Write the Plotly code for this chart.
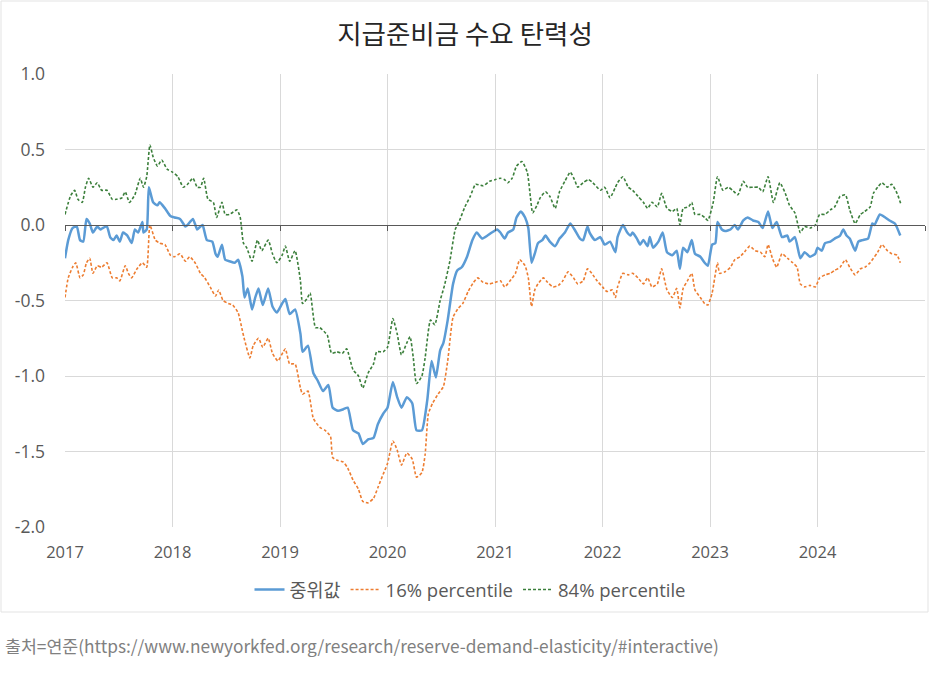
import plotly.graph_objects as go

# ---------------- data (decimal years) ----------------
t_med = [2017.00, 2017.03, 2017.07, 2017.11, 2017.14, 2017.17, 2017.20, 2017.23, 2017.26, 2017.30,
         2017.33, 2017.35, 2017.39, 2017.42, 2017.45, 2017.48, 2017.51, 2017.54, 2017.58, 2017.62,
         2017.65, 2017.68, 2017.72, 2017.73, 2017.76, 2017.78, 2017.82, 2017.86, 2017.88, 2017.93,
         2017.98, 2018.02, 2018.07, 2018.12, 2018.14, 2018.19, 2018.23, 2018.26, 2018.28, 2018.32,
         2018.37, 2018.40, 2018.42, 2018.46, 2018.49, 2018.53, 2018.58, 2018.61, 2018.65, 2018.67,
         2018.70, 2018.74, 2018.77, 2018.80, 2018.84, 2018.89, 2018.93, 2018.97, 2019.02, 2019.05,
         2019.09, 2019.14, 2019.19, 2019.21, 2019.26, 2019.31, 2019.35, 2019.40, 2019.45, 2019.49,
         2019.54, 2019.59, 2019.63, 2019.68, 2019.73, 2019.77, 2019.82, 2019.87, 2019.91, 2019.96,
         2020.00, 2020.05, 2020.09, 2020.13, 2020.18, 2020.23, 2020.27, 2020.32, 2020.37, 2020.41,
         2020.45, 2020.49, 2020.52, 2020.56, 2020.61, 2020.65, 2020.69, 2020.74, 2020.79, 2020.83,
         2020.88, 2020.93, 2020.97, 2021.02, 2021.05, 2021.09, 2021.12, 2021.17, 2021.20, 2021.24,
         2021.28, 2021.31, 2021.34, 2021.37, 2021.40, 2021.44, 2021.47, 2021.51, 2021.56, 2021.60,
         2021.65, 2021.70, 2021.74, 2021.79, 2021.82, 2021.86, 2021.88, 2021.93, 2021.98, 2022.02,
         2022.07, 2022.12, 2022.14, 2022.19, 2022.23, 2022.26, 2022.28, 2022.32, 2022.35, 2022.38,
         2022.42, 2022.44, 2022.47, 2022.52, 2022.56, 2022.60, 2022.65, 2022.69, 2022.72, 2022.75,
         2022.79, 2022.83, 2022.86, 2022.91, 2022.95, 2022.98, 2023.02, 2023.05, 2023.07, 2023.11,
         2023.14, 2023.19, 2023.23, 2023.26, 2023.31, 2023.35, 2023.40, 2023.45, 2023.49, 2023.54,
         2023.58, 2023.62, 2023.67, 2023.72, 2023.74, 2023.79, 2023.84, 2023.88, 2023.93, 2023.98,
         2024.00, 2024.04, 2024.07, 2024.12, 2024.16, 2024.21, 2024.24, 2024.27, 2024.30, 2024.35,
         2024.38, 2024.42, 2024.47, 2024.51, 2024.53, 2024.58, 2024.63, 2024.67, 2024.72, 2024.77]
median = [-0.22, -0.10, -0.02, -0.01, -0.10, -0.11, 0.04, 0.01, -0.05, -0.01,
          -0.03, -0.02, -0.01, -0.08, -0.10, -0.07, -0.11, -0.05, -0.07, -0.12,
          -0.03, -0.05, 0.02, -0.05, -0.03, 0.25, 0.15, 0.13, 0.15, 0.11,
          0.06, 0.05, 0.04, -0.01, 0.00, 0.04, -0.03, -0.01, 0.00, -0.10,
          -0.11, -0.19, -0.21, -0.13, -0.23, -0.24, -0.25, -0.23, -0.34, -0.48,
          -0.42, -0.56, -0.48, -0.42, -0.53, -0.42, -0.54, -0.58, -0.52, -0.49,
          -0.59, -0.56, -0.72, -0.84, -0.80, -0.98, -1.03, -1.10, -1.06, -1.21,
          -1.23, -1.22, -1.21, -1.36, -1.38, -1.45, -1.42, -1.41, -1.32, -1.25,
          -1.21, -1.04, -1.14, -1.21, -1.14, -1.18, -1.36, -1.36, -1.16, -0.90,
          -1.01, -0.83, -0.78, -0.63, -0.39, -0.30, -0.28, -0.21, -0.10, -0.05,
          -0.09, -0.07, -0.05, -0.03, -0.05, -0.09, -0.05, -0.03, 0.05, 0.09,
          0.05, -0.02, -0.25, -0.19, -0.12, -0.10, -0.07, -0.11, -0.14, -0.09,
          -0.05, 0.01, -0.03, -0.09, -0.10, -0.01, -0.05, -0.10, -0.08, -0.13,
          -0.11, -0.18, -0.08, 0.00, -0.05, -0.07, -0.05, -0.09, -0.13, -0.10,
          -0.14, -0.08, -0.15, -0.11, -0.05, -0.18, -0.20, -0.17, -0.29, -0.15,
          -0.18, -0.10, -0.19, -0.21, -0.25, -0.27, -0.13, -0.12, 0.02, -0.03,
          -0.04, -0.03, 0.00, -0.03, 0.03, 0.05, 0.03, 0.02, -0.02, 0.09,
          -0.02, 0.02, -0.08, -0.07, -0.11, -0.08, -0.22, -0.18, -0.21, -0.19,
          -0.15, -0.17, -0.12, -0.11, -0.09, -0.07, -0.03, -0.07, -0.09, -0.17,
          -0.11, -0.10, -0.09, 0.01, 0.00, 0.07, 0.05, 0.03, 0.01, -0.07]

t_p84 = [2017.00, 2017.05, 2017.09, 2017.12, 2017.16, 2017.19, 2017.22, 2017.26, 2017.30, 2017.34,
         2017.39, 2017.44, 2017.48, 2017.53, 2017.56, 2017.60, 2017.65, 2017.70, 2017.73, 2017.76,
         2017.79, 2017.82, 2017.86, 2017.90, 2017.95, 2018.00, 2018.05, 2018.10, 2018.14, 2018.19,
         2018.23, 2018.26, 2018.29, 2018.33, 2018.38, 2018.41, 2018.46, 2018.49, 2018.53, 2018.60,
         2018.63, 2018.66, 2018.69, 2018.74, 2018.79, 2018.83, 2018.89, 2018.93, 2018.97, 2019.02,
         2019.05, 2019.09, 2019.14, 2019.19, 2019.21, 2019.25, 2019.28, 2019.33, 2019.37, 2019.44,
         2019.48, 2019.53, 2019.58, 2019.62, 2019.68, 2019.73, 2019.77, 2019.82, 2019.87, 2019.90,
         2019.96, 2020.00, 2020.05, 2020.09, 2020.13, 2020.18, 2020.21, 2020.24, 2020.27, 2020.32,
         2020.35, 2020.40, 2020.44, 2020.49, 2020.53, 2020.58, 2020.63, 2020.67, 2020.72, 2020.77,
         2020.82, 2020.89, 2020.95, 2021.00, 2021.05, 2021.09, 2021.12, 2021.16, 2021.20, 2021.25,
         2021.30, 2021.33, 2021.35, 2021.39, 2021.42, 2021.47, 2021.51, 2021.56, 2021.60, 2021.65,
         2021.70, 2021.74, 2021.77, 2021.82, 2021.87, 2021.91, 2021.98, 2022.02, 2022.07, 2022.12,
         2022.14, 2022.19, 2022.24, 2022.28, 2022.33, 2022.38, 2022.42, 2022.46, 2022.51, 2022.55,
         2022.60, 2022.65, 2022.69, 2022.72, 2022.75, 2022.80, 2022.83, 2022.86, 2022.91, 2022.95,
         2022.98, 2023.03, 2023.07, 2023.12, 2023.17, 2023.21, 2023.26, 2023.31, 2023.35, 2023.40,
         2023.45, 2023.49, 2023.54, 2023.59, 2023.65, 2023.70, 2023.74, 2023.79, 2023.84, 2023.88,
         2023.93, 2023.98, 2024.02, 2024.07, 2024.12, 2024.16, 2024.21, 2024.26, 2024.30, 2024.35,
         2024.40, 2024.44, 2024.49, 2024.52, 2024.56, 2024.60, 2024.65, 2024.69, 2024.74, 2024.78]
p84 = [0.07, 0.19, 0.23, 0.17, 0.15, 0.25, 0.31, 0.25, 0.28, 0.23,
       0.23, 0.17, 0.17, 0.18, 0.22, 0.15, 0.20, 0.31, 0.25, 0.32,
       0.53, 0.45, 0.39, 0.43, 0.37, 0.35, 0.32, 0.25, 0.27, 0.31,
       0.25, 0.25, 0.31, 0.17, 0.15, 0.05, 0.15, 0.07, 0.07, 0.10,
       0.05, -0.12, -0.15, -0.24, -0.10, -0.17, -0.10, -0.19, -0.25, -0.20,
       -0.14, -0.24, -0.17, -0.37, -0.52, -0.49, -0.45, -0.68, -0.68, -0.73,
       -0.85, -0.84, -0.85, -0.82, -0.96, -1.00, -1.08, -0.98, -0.92, -0.84,
       -0.84, -0.81, -0.62, -0.72, -0.86, -0.78, -0.74, -0.88, -1.05, -1.00,
       -0.88, -0.63, -0.66, -0.50, -0.40, -0.24, -0.03, 0.03, 0.12, 0.19,
       0.27, 0.26, 0.29, 0.30, 0.31, 0.30, 0.28, 0.31, 0.39, 0.42,
       0.35, 0.18, 0.08, 0.13, 0.18, 0.22, 0.19, 0.11, 0.22, 0.29,
       0.35, 0.30, 0.25, 0.28, 0.30, 0.28, 0.23, 0.25, 0.18, 0.25,
       0.28, 0.32, 0.25, 0.23, 0.19, 0.15, 0.11, 0.15, 0.12, 0.21,
       0.11, 0.09, 0.11, 0.00, 0.11, 0.12, 0.15, 0.07, 0.07, 0.05,
       0.03, 0.15, 0.32, 0.23, 0.25, 0.23, 0.20, 0.29, 0.25, 0.25,
       0.25, 0.22, 0.32, 0.15, 0.28, 0.21, 0.13, 0.08, -0.05, -0.01,
       -0.02, 0.00, 0.07, 0.07, 0.10, 0.12, 0.19, 0.20, 0.10, 0.01,
       0.07, 0.09, 0.12, 0.21, 0.25, 0.28, 0.25, 0.27, 0.21, 0.13]

t_p16 = [2017.00, 2017.03, 2017.07, 2017.10, 2017.14, 2017.17, 2017.20, 2017.23, 2017.26, 2017.30,
         2017.34, 2017.39, 2017.44, 2017.48, 2017.51, 2017.56, 2017.59, 2017.62, 2017.67, 2017.72,
         2017.76, 2017.79, 2017.84, 2017.88, 2017.93, 2017.98, 2018.02, 2018.07, 2018.12, 2018.16,
         2018.21, 2018.26, 2018.30, 2018.35, 2018.40, 2018.43, 2018.47, 2018.52, 2018.56, 2018.61,
         2018.65, 2018.67, 2018.72, 2018.75, 2018.80, 2018.84, 2018.89, 2018.93, 2018.98, 2019.03,
         2019.05, 2019.09, 2019.14, 2019.19, 2019.21, 2019.26, 2019.31, 2019.37, 2019.42, 2019.47,
         2019.49, 2019.54, 2019.59, 2019.63, 2019.68, 2019.73, 2019.77, 2019.82, 2019.87, 2019.91,
         2019.96, 2020.00, 2020.05, 2020.09, 2020.13, 2020.18, 2020.23, 2020.27, 2020.32, 2020.35,
         2020.38, 2020.42, 2020.47, 2020.52, 2020.56, 2020.61, 2020.66, 2020.70, 2020.75, 2020.80,
         2020.84, 2020.89, 2020.95, 2021.00, 2021.05, 2021.09, 2021.14, 2021.19, 2021.23, 2021.28,
         2021.31, 2021.34, 2021.37, 2021.40, 2021.45, 2021.49, 2021.54, 2021.59, 2021.63, 2021.68,
         2021.73, 2021.77, 2021.82, 2021.86, 2021.90, 2021.95, 2022.00, 2022.04, 2022.09, 2022.12,
         2022.14, 2022.19, 2022.24, 2022.28, 2022.33, 2022.38, 2022.42, 2022.46, 2022.51, 2022.55,
         2022.60, 2022.65, 2022.69, 2022.72, 2022.75, 2022.79, 2022.83, 2022.86, 2022.91, 2022.95,
         2022.98, 2023.02, 2023.07, 2023.09, 2023.14, 2023.19, 2023.23, 2023.28, 2023.33, 2023.37,
         2023.42, 2023.47, 2023.51, 2023.54, 2023.58, 2023.62, 2023.67, 2023.72, 2023.77, 2023.81,
         2023.84, 2023.88, 2023.93, 2023.98, 2024.02, 2024.07, 2024.12, 2024.16, 2024.21, 2024.26,
         2024.30, 2024.35, 2024.40, 2024.44, 2024.49, 2024.52, 2024.56, 2024.60, 2024.65, 2024.69,
         2024.74, 2024.77]
p16 = [-0.48, -0.35, -0.28, -0.25, -0.35, -0.33, -0.25, -0.22, -0.32, -0.27,
       -0.28, -0.25, -0.35, -0.35, -0.37, -0.27, -0.32, -0.35, -0.29, -0.25,
       -0.28, 0.00, -0.10, -0.12, -0.13, -0.20, -0.21, -0.19, -0.24, -0.21,
       -0.25, -0.32, -0.35, -0.41, -0.47, -0.43, -0.50, -0.52, -0.53, -0.58,
       -0.70, -0.76, -0.88, -0.80, -0.75, -0.81, -0.75, -0.85, -0.90, -0.84,
       -0.82, -0.92, -0.92, -1.08, -1.12, -1.10, -1.28, -1.34, -1.36, -1.40,
       -1.54, -1.56, -1.57, -1.61, -1.69, -1.75, -1.83, -1.84, -1.81, -1.74,
       -1.65, -1.58, -1.43, -1.49, -1.59, -1.51, -1.55, -1.67, -1.64, -1.52,
       -1.25, -1.18, -1.12, -1.07, -0.90, -0.61, -0.55, -0.52, -0.44, -0.38,
       -0.35, -0.38, -0.39, -0.38, -0.37, -0.41, -0.37, -0.32, -0.23, -0.27,
       -0.35, -0.54, -0.43, -0.39, -0.35, -0.38, -0.41, -0.40, -0.37, -0.31,
       -0.35, -0.39, -0.37, -0.29, -0.32, -0.37, -0.41, -0.44, -0.43, -0.48,
       -0.41, -0.32, -0.33, -0.32, -0.35, -0.39, -0.35, -0.41, -0.39, -0.29,
       -0.43, -0.48, -0.42, -0.55, -0.42, -0.37, -0.32, -0.43, -0.48, -0.52,
       -0.53, -0.45, -0.25, -0.32, -0.31, -0.28, -0.23, -0.21, -0.17, -0.14,
       -0.17, -0.18, -0.21, -0.13, -0.22, -0.28, -0.19, -0.22, -0.25, -0.28,
       -0.39, -0.41, -0.40, -0.41, -0.35, -0.33, -0.32, -0.30, -0.28, -0.23,
       -0.28, -0.33, -0.29, -0.28, -0.25, -0.22, -0.18, -0.13, -0.17, -0.19,
       -0.20, -0.25]

assert len(t_med) == len(median) and len(t_p84) == len(p84) and len(t_p16) == len(p16)

series_names = ["중위값", "16% percentile", "84% percentile"]
year_ticks = [2017, 2018, 2019, 2020, 2021, 2022, 2023, 2024]
year_labels = [str(y) for y in year_ticks]
axis_ticks = [2017, 2018, 2019, 2020, 2021, 2022, 2023, 2024, 2025]
y_ticks = [-2.0, -1.5, -1.0, -0.5, 0.0, 0.5, 1.0]
y_labels = ["-2.0", "-1.5", "-1.0", "-0.5", "0.0", "0.5", "1.0"]

title_text = "지급준비금 수요 탄력성"
source_text = "출처=연준(https://www.newyorkfed.org/research/reserve-demand-elasticity/#interactive)"

# ---------------- figure ----------------
FONT = "Open Sans, Noto Sans CJK KR, sans-serif"
GRAY = "#595959"
H_PLOT = 453.0  # plot-area height in px (74..527)
W_PLOT = 860.0  # plot-area width in px (65..925)

fig = go.Figure()

# invisible helper trace so that the zero-crossing axis (x2) is drawn
fig.add_trace(go.Scatter(x=[2017], y=[0], xaxis="x2", yaxis="y", mode="markers",
                         marker=dict(opacity=0), showlegend=False, hoverinfo="skip"))

fig.add_trace(go.Scatter(x=t_med, y=median, name=series_names[0], mode="lines",
                         line=dict(color="#5b9bd5", width=2.5, shape="spline", smoothing=0.5)))
fig.add_trace(go.Scatter(x=t_p16, y=p16, name=series_names[1], mode="lines",
                         line=dict(color="#ed7d31", width=1.6, dash="3px,2px",
                                   shape="spline", smoothing=0.5)))
fig.add_trace(go.Scatter(x=t_p84, y=p84, name=series_names[2], mode="lines",
                         line=dict(color="#3b7f3b", width=1.6, dash="3px,2px",
                                   shape="spline", smoothing=0.5)))

fig.update_layout(
    width=930, height=678,
    margin=dict(l=65, r=5, t=74, b=151, autoexpand=False),
    paper_bgcolor="white", plot_bgcolor="white",
    font=dict(family=FONT, color=GRAY),
    title=dict(text=title_text, x=0.5, xref="container", xanchor="center",
               y=1 - 35 / 678, yref="container", yanchor="middle",
               font=dict(family="Noto Sans CJK KR, sans-serif", size=26.5, color="#262626")),
    xaxis=dict(range=[2017, 2025], tickvals=year_ticks, ticktext=year_labels,
               showgrid=True, gridcolor="#d9d9d9", gridwidth=1, zeroline=False,
               showline=False, ticks="", tickfont=dict(size=16.5, color=GRAY),
               ticklabelstandoff=13, automargin=False),
    xaxis2=dict(range=[2017, 2025], overlaying="x", anchor="free", position=2 / 3,
                side="bottom", showline=True, linecolor=GRAY, linewidth=1,
                tickvals=axis_ticks, ticks="outside", ticklen=5, tickcolor=GRAY,
                showticklabels=False, showgrid=False, zeroline=False),
    yaxis=dict(range=[-2, 1], tickvals=y_ticks, ticktext=y_labels,
               showgrid=True, gridcolor="#d9d9d9", gridwidth=1, zeroline=False,
               showline=False, ticks="", tickfont=dict(size=17.5, color=GRAY),
               ticklabelstandoff=19, automargin=False),
    legend=dict(orientation="h", x=(470 - 65) / W_PLOT, xanchor="center",
                y=(527 - 590) / H_PLOT, yanchor="middle",
                font=dict(size=18.5, color=GRAY), itemwidth=30,
                traceorder="normal"),
    annotations=[dict(text=source_text, xref="paper", yref="paper",
                      x=(3 - 65) / W_PLOT, y=(527 - 645) / H_PLOT,
                      xanchor="left", yanchor="middle", showarrow=False,
                      font=dict(family="Noto Sans CJK KR, sans-serif", size=17.3, color="#808080"))],
    shapes=[dict(type="rect", xref="paper", yref="paper", layer="below",
                 x0=(1 - 65) / W_PLOT, x1=(928 - 65) / W_PLOT,
                 y0=(527 - 612) / H_PLOT, y1=(527 - 1) / H_PLOT,
                 line=dict(color="#e3e3e3", width=1), fillcolor="rgba(0,0,0,0)")],
)

fig.write_html("out.html")
